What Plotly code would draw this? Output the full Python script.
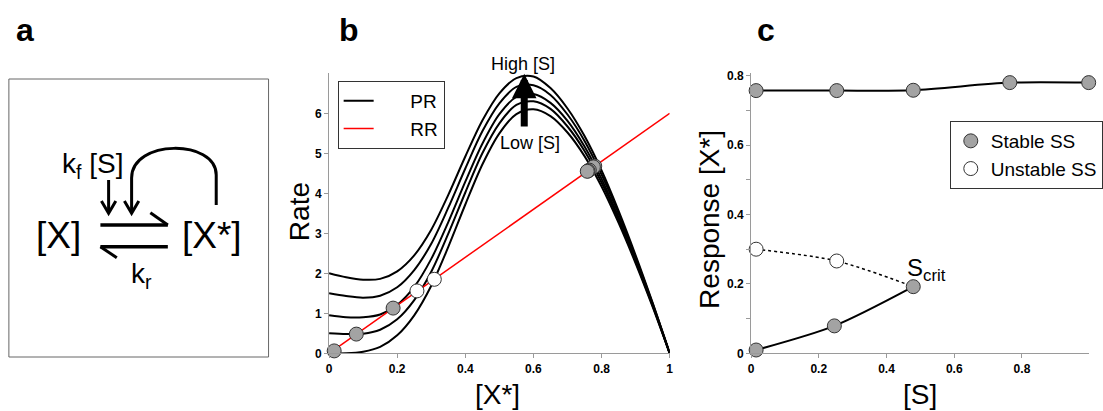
import plotly.graph_objects as go

W, H = 1103, 411

# ---------------- data: panel b (rate balance) ----------------
x_star = [0, 0.05, 0.1, 0.15, 0.2, 0.25, 0.3, 0.35, 0.4, 0.45, 0.5,
          0.55, 0.6, 0.65, 0.7, 0.75, 0.8, 0.85, 0.9, 0.95, 1.0]
pr_s1 = [0.00, 0.00, 0.04, 0.16, 0.45, 0.95, 1.69, 2.66, 3.72, 4.72, 5.50,
         5.98, 6.10, 5.93, 5.52, 4.93, 4.17, 3.26, 2.25, 1.16, 0.00]
pr_s2 = [0.50, 0.48, 0.49, 0.59, 0.85, 1.33, 2.04, 2.99, 4.02, 5.00, 5.75,
         6.21, 6.30, 6.11, 5.67, 5.06, 4.27, 3.34, 2.30, 1.19, 0.00]
pr_s3 = [0.95, 0.90, 0.90, 0.97, 1.21, 1.66, 2.36, 3.28, 4.29, 5.24, 5.98,
         6.41, 6.48, 6.26, 5.81, 5.17, 4.36, 3.40, 2.35, 1.21, 0.00]
pr_s4 = [1.50, 1.43, 1.39, 1.44, 1.65, 2.08, 2.74, 3.64, 4.62, 5.55, 6.25,
         6.66, 6.70, 6.46, 5.97, 5.31, 4.47, 3.49, 2.40, 1.24, 0.00]
pr_s5 = [2.00, 1.90, 1.84, 1.86, 2.05, 2.45, 3.09, 3.96, 4.92, 5.82, 6.50,
         6.88, 6.92, 6.63, 6.12, 5.43, 4.57, 3.56, 2.45, 1.26, 0.00]
pr_curves = [pr_s1, pr_s2, pr_s3, pr_s4, pr_s5]

rr_x = [0, 1]
rr_y = [0, 6]

b_stable_x = [0.015, 0.080, 0.188, 0.780, 0.776, 0.764, 0.760, 0.758]
b_stable_y = [0.06, 0.48, 1.13, 4.68, 4.66, 4.58, 4.56, 4.55]
b_unstable_x = [0.258, 0.309]
b_unstable_y = [1.56, 1.85]

arrow_x = 0.573
arrow_tail = 5.63
arrow_tip = 6.99

# ---------------- data: panel c (bifurcation) ----------------
s_upper = [0.015, 0.253, 0.479, 0.764, 0.997]
x_upper = [0.757, 0.757, 0.758, 0.780, 0.780]
s_lower = [0.015, 0.246, 0.479]
x_lower = [0.0095, 0.079, 0.192]
s_unst = [0.015, 0.253, 0.479]
x_unst = [0.300, 0.266, 0.192]
s_stable_pts = s_upper + s_lower
x_stable_pts = x_upper + x_lower
s_unstable_pts = [0.015, 0.253]
x_unstable_pts = [0.300, 0.266]

b_xticks = [0, 0.2, 0.4, 0.6, 0.8, 1]
b_xticktext = ['0', '0.2', '0.4', '0.6', '0.8', '1']
b_yticks = [0, 1, 2, 3, 4, 5, 6]
c_xticks = [0, 0.2, 0.4, 0.6, 0.8]
c_xticktext = ['0', '0.2', '0.4', '0.6', '0.8']
c_yticks = [0, 0.2, 0.4, 0.6, 0.8]
c_yticktext = ['0', '0.2', '0.4', '0.6', '0.8']

FONT = "Liberation Sans, Arial, Helvetica, sans-serif"
GREY = '#a3a3a3'
EDGE = '#333333'


def fx(p):
    return p / W


def fy(p):
    return 1 - p / H


def P(x, y):
    return f"{fx(x):.5f},{fy(y):.5f}"


fig = go.Figure()

# panel b curves
for i, yv in enumerate(pr_curves):
    fig.add_trace(go.Scatter(
        x=x_star, y=yv, mode='lines', name='\u00a0' * 6 + 'PR', legendgroup='PR',
        showlegend=(i == 0), legend='legend',
        line=dict(color='black', width=2, shape='spline', smoothing=0.9),
        xaxis='x', yaxis='y', hoverinfo='skip'))
fig.add_trace(go.Scatter(
    x=rr_x, y=rr_y, mode='lines', name='\u00a0' * 6 + 'RR', legend='legend',
    line=dict(color='#ff0000', width=1.5), xaxis='x', yaxis='y'))
fig.add_trace(go.Scatter(
    x=b_stable_x, y=b_stable_y, mode='markers', showlegend=False, cliponaxis=False,
    marker=dict(size=14, color=GREY, line=dict(color=EDGE, width=1)),
    xaxis='x', yaxis='y'))
fig.add_trace(go.Scatter(
    x=b_unstable_x, y=b_unstable_y, mode='markers', showlegend=False, cliponaxis=False,
    marker=dict(size=14, color='white', line=dict(color=EDGE, width=1)),
    xaxis='x', yaxis='y'))

# panel c lines
fig.add_trace(go.Scatter(
    x=s_upper, y=x_upper, mode='lines', showlegend=False,
    line=dict(color='black', width=2, shape='spline', smoothing=0.8),
    xaxis='x2', yaxis='y2'))
fig.add_trace(go.Scatter(
    x=s_lower, y=x_lower, mode='lines', showlegend=False,
    line=dict(color='black', width=2, shape='spline', smoothing=0.8),
    xaxis='x2', yaxis='y2'))
fig.add_trace(go.Scatter(
    x=s_unst, y=x_unst, mode='lines', showlegend=False,
    line=dict(color='black', width=1.5, dash='dot', shape='spline', smoothing=0.8),
    xaxis='x2', yaxis='y2'))
fig.add_trace(go.Scatter(
    x=s_stable_pts, y=x_stable_pts, mode='markers', name='Stable SS', legend='legend2',
    cliponaxis=False,
    marker=dict(size=14, color=GREY, line=dict(color=EDGE, width=1)),
    xaxis='x2', yaxis='y2'))
fig.add_trace(go.Scatter(
    x=s_unstable_pts, y=x_unstable_pts, mode='markers', name='Unstable SS', legend='legend2',
    cliponaxis=False,
    marker=dict(size=14, color='white', line=dict(color=EDGE, width=1)),
    xaxis='x2', yaxis='y2'))

axis_common = dict(showline=True, linecolor='#9a9a9a', linewidth=1, ticks='outside',
                   ticklen=4, tickcolor='#9a9a9a', showgrid=False, zeroline=False,
                   automargin=False,
                   tickfont=dict(size=12, color='black', weight='bold', family=FONT))

fig.update_layout(
    template='none',
    width=W, height=H, autosize=False,
    margin=dict(l=0, r=0, t=0, b=0, pad=0),
    paper_bgcolor='white', plot_bgcolor='rgba(0,0,0,0)',
    font=dict(family=FONT, color='black'),
    xaxis=dict(domain=[333.3 / W, 678.3 / W], range=[0, 1], anchor='y',
               tickvals=b_xticks, ticktext=b_xticktext, **axis_common),
    yaxis=dict(domain=[fy(353.3), fy(73.3)], range=[0, 7], anchor='x',
               tickvals=b_yticks, **axis_common),
    xaxis2=dict(domain=[760.7 / W, 1.0], range=[0, (W - 760.7) / 343], anchor='y2',
                tickvals=c_xticks, ticktext=c_xticktext, **axis_common),
    yaxis2=dict(domain=[fy(353.3), fy(72.9)], range=[0, 0.808], anchor='x2',
                tickvals=c_yticks, ticktext=c_yticktext,
                minor=dict(dtick=0.1, tick0=0, ticks='outside', ticklen=4,
                           tickcolor='#9a9a9a', showgrid=False),
                **axis_common),
    legend=dict(x=fx(342), y=fy(81), xanchor='left', yanchor='top',
                bordercolor=EDGE, borderwidth=1, bgcolor='white',
                font=dict(size=19, family=FONT), tracegroupgap=0),
    legend2=dict(x=fx(962), y=fy(121), xanchor='left', yanchor='top',
                 bordercolor=EDGE, borderwidth=1, bgcolor='white',
                 font=dict(size=19, family=FONT), tracegroupgap=0),
)

ann = []


def text(t, x, y, size, **kw):
    d = dict(text=t, x=fx(x), y=fy(y), xref='paper', yref='paper', showarrow=False,
             xanchor='center', yanchor='middle', font=dict(size=size, family=FONT, color='black'))
    d.update(kw)
    ann.append(d)


# panel letters
text('<b>a</b>', 25, 30, 32)
text('<b>b</b>', 353, 30, 32)
text('<b>c</b>', 776, 30, 32)
# axis titles
text('Rate', 303, 212, 28, textangle=-90)
text('[X*]', 504, 394, 28)
text('Response [X*]', 718, 219, 28, textangle=-90)
text('[S]', 932, 394, 28)
# panel b labels
text('High [S]', 530, 64, 18)
text('Low [S]', 537, 143, 18)
# panel c label
text('S<sub>crit</sub>', 938, 269, 24)
# panel a texts
text('[X]', 59.5, 236, 37)
text('[X*]', 215, 236, 37)
text('k<sub>f</sub> [S]', 94, 165, 28)
text('k<sub>r</sub>', 143, 275, 28)

# arrow low -> high [S]
ann.append(dict(x=arrow_x, y=arrow_tip, ax=arrow_x, ay=arrow_tail, xref='x', yref='y',
                axref='x', ayref='y', text='', showarrow=True, arrowhead=2,
                arrowwidth=7, arrowsize=0.7, arrowcolor='black', standoff=0))

fig.update_layout(annotations=ann)

shapes = []
# panel a frame
shapes.append(dict(type='rect', xref='paper', yref='paper', x0=fx(9), y0=fy(357),
                   x1=fx(272), y1=fy(79), line=dict(color='#666666', width=1)))


def path(d, width=3):
    shapes.append(dict(type='path', xref='paper', yref='paper', path=d,
                       line=dict(color='black', width=width)))


# forward / reverse half arrows
path(f"M{P(101.7, 225)} L{P(170, 225)}", 3.5)
path(f"M{P(152.3, 212.7)} L{P(170, 225)}", 3)
path(f"M{P(101.7, 246.7)} L{P(170, 246.7)}", 3.5)
path(f"M{P(101.7, 246.7)} L{P(118.3, 257.7)}", 3)
# down arrow from kf[S]
path(f"M{P(110, 180)} L{P(110, 212)}", 3)
path(f"M{P(102.7, 201)} L{P(110, 213.3)} L{P(117.3, 201)}", 3)
# feedback arc from X*
path(f"M{P(219, 205)} L{P(219, 175)} C{P(219, 139)} {P(133.3, 139)} {P(133.3, 178)} L{P(133.3, 212)}", 3)
path(f"M{P(126, 201)} L{P(133.3, 213.3)} L{P(140.6, 201)}", 3)

fig.update_layout(shapes=shapes)

fig.write_html("out.html")
